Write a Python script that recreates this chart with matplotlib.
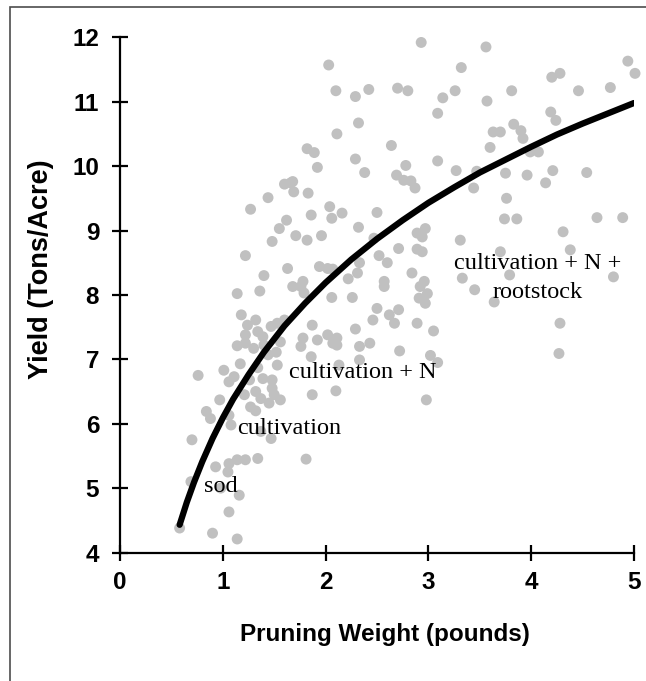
import numpy as np
import matplotlib
matplotlib.use('Agg')
from matplotlib import pyplot as plt
from matplotlib.patches import Rectangle

# pruning weight (pounds) and yield (tons/acre)
pruning = [2.93, 2.03, 3.32, 3.56, 4.94, 5.01, 2.10, 2.29, 2.42, 2.70, 2.80, 3.14, 3.26,
           4.20, 4.28, 3.81, 3.57, 4.46, 4.77, 3.09, 2.32, 2.11, 1.82, 1.89, 1.92, 2.64,
           2.29, 2.38, 2.78, 2.69, 2.76, 2.83, 2.87, 3.09, 3.27, 1.68, 1.69, 1.83, 2.04, 2.06,
           2.16, 1.86, 2.50, 2.32, 1.71, 1.82, 1.96, 2.89, 2.97, 2.94, 2.47, 3.31, 2.71, 2.89, 2.94,
           2.52, 2.60, 1.94, 2.02, 2.07, 2.33, 2.31, 2.22, 2.84, 2.96, 1.78, 2.57, 3.33,
           4.19, 4.24, 3.83, 3.90, 3.92, 3.63, 3.70, 3.60, 3.99, 4.07, 3.47, 3.44, 3.75, 3.96,
           4.14, 4.21, 4.54, 3.76, 3.74, 3.86, 4.64, 4.89, 4.31, 3.70, 4.38, 4.80, 3.79, 3.45, 3.64,
           4.28, 4.27,
           1.60, 1.66, 1.44, 1.27, 1.62, 1.55, 1.48, 1.22, 1.63, 1.40,
           1.76, 1.79, 1.68,
           2.06, 2.26, 2.57, 2.92, 2.99, 2.91, 2.97, 2.50, 2.46, 2.62, 2.71, 2.67, 2.89, 3.05,
           1.87, 2.29, 1.78, 1.76, 1.92, 2.02, 2.07, 2.11, 2.11, 2.33, 2.43, 2.72, 3.02, 3.09,
           1.86, 2.33, 2.13, 1.87, 2.10, 2.98, 1.81,
           1.14, 1.36, 1.18, 1.32, 1.24, 1.22, 1.34, 1.39, 1.47, 1.53, 1.60,
           1.14, 1.22, 1.30, 1.40, 1.44, 1.52, 1.56, 1.17, 1.34, 1.53, 0.76,
           1.01, 1.11, 1.06, 1.26, 1.39, 1.48, 1.48, 1.32, 1.21, 1.37, 1.50, 1.56, 1.45,
           0.97, 0.84, 0.88, 1.08, 1.06, 1.27, 1.32, 1.37, 1.47,
           0.70, 0.93, 1.06, 1.14, 1.22, 1.34, 1.05, 0.69, 0.98, 1.16, 1.06, 0.58, 0.90, 1.14]
yield_t = [11.92, 11.57, 11.53, 11.85, 11.63, 11.44, 11.17, 11.08, 11.19, 11.21, 11.17, 11.06, 11.17,
           11.38, 11.44, 11.17, 11.01, 11.17, 11.22, 10.82, 10.67, 10.50, 10.27, 10.21, 9.98, 10.32,
           10.11, 9.90, 10.01, 9.86, 9.78, 9.77, 9.66, 10.08, 9.93, 9.76, 9.60, 9.58, 9.37, 9.19,
           9.27, 9.24, 9.28, 9.05, 8.92, 8.85, 8.92, 8.96, 9.03, 8.90, 8.88, 8.85, 8.72, 8.71, 8.67,
           8.61, 8.50, 8.44, 8.41, 8.40, 8.50, 8.34, 8.25, 8.34, 8.21, 8.21, 8.21, 8.26,
           10.84, 10.71, 10.65, 10.55, 10.43, 10.53, 10.53, 10.29, 10.22, 10.22, 9.92, 9.66, 9.89, 9.86,
           9.74, 9.93, 9.90, 9.50, 9.18, 9.18, 9.20, 9.20, 8.98, 8.67, 8.70, 8.28, 8.31, 8.08, 7.89,
           7.56, 7.09,
           9.72, 9.74, 9.51, 9.33, 9.16, 9.03, 8.83, 8.61, 8.41, 8.30,
           8.13, 8.03, 8.13,
           7.96, 7.96, 8.13, 8.13, 8.02, 7.95, 7.87, 7.79, 7.61, 7.69, 7.77, 7.56, 7.56, 7.44,
           7.53, 7.47, 7.33, 7.20, 7.30, 7.38, 7.25, 7.33, 7.22, 7.20, 7.25, 7.13, 7.06, 6.95,
           7.04, 6.99, 6.91, 6.45, 6.51, 6.37, 5.45,
           8.02, 8.06, 7.69, 7.61, 7.53, 7.38, 7.43, 7.35, 7.51, 7.56, 7.61,
           7.21, 7.25, 7.17, 7.22, 7.07, 7.11, 7.27, 6.93, 6.87, 6.91, 6.75,
           6.83, 6.73, 6.65, 6.68, 6.70, 6.68, 6.55, 6.50, 6.45, 6.39, 6.45, 6.37, 6.32,
           6.37, 6.19, 6.08, 5.98, 6.13, 6.26, 6.20, 5.88, 5.77,
           5.75, 5.33, 5.38, 5.44, 5.44, 5.46, 5.25, 5.10, 5.00, 4.89, 4.63, 4.38, 4.30, 4.21]

# trend line, points
fit_x = [0.58, 0.65, 0.72, 0.80, 0.90, 1.00, 1.10, 1.25, 1.40, 1.60, 1.80, 2.00, 2.25, 2.50,
         2.75, 3.00, 3.25, 3.50, 3.75, 4.00, 4.25, 4.50, 4.75, 5.00]
fit_y = [4.43, 4.78, 5.09, 5.41, 5.77, 6.09, 6.38, 6.76, 7.11, 7.52, 7.87, 8.19, 8.55, 8.87,
         9.16, 9.43, 9.67, 9.90, 10.10, 10.30, 10.49, 10.66, 10.82, 10.98]

xticks = [0, 1, 2, 3, 4, 5]
yticks = [4, 5, 6, 7, 8, 9, 10, 11, 12]

labels = ['sod', 'cultivation', 'cultivation + N', 'cultivation + N +\nrootstock']
label_x = [0.82, 1.14, 1.64, 4.06]
label_y = [5.02, 5.93, 6.80, 8.27]

sans = ['Liberation Sans', 'DejaVu Sans']
serif = ['Liberation Serif', 'DejaVu Serif']

fig = plt.figure(figsize=(6.46, 6.81), dpi=100)
fig.patches.append(Rectangle((10/646, -0.1), 1.2, 1 - 7/681 + 0.1, transform=fig.transFigure,
                             fill=False, edgecolor='#4d4d4d', linewidth=1.2))
ax = fig.add_axes([120/646, 128.5/681, 514/646, 515.2/681])

ax.scatter(pruning, yield_t, s=62, color='#c0c0c0', edgecolors='none', zorder=2, clip_on=False)
ax.plot(fit_x, fit_y, color='black', linewidth=4.5, solid_capstyle='round', solid_joinstyle='round', zorder=3)

for t, lx, ly in zip(labels, label_x, label_y):
    if '\n' in t:
        ax.text(lx, ly, t, family=serif, fontsize=17.5, ha='center', va='center', linespacing=1.5, zorder=4)
    else:
        ax.text(lx, ly, t, family=serif, fontsize=17.5, ha='left', va='center', zorder=4)

ax.set_xlim(0, 5)
ax.set_ylim(4, 12)
ax.set_xticks(xticks)
ax.set_yticks(yticks)
ax.spines['top'].set_visible(False)
ax.spines['right'].set_visible(False)
for sp in ['left', 'bottom']:
    ax.spines[sp].set_linewidth(1.6)
ax.tick_params(direction='inout', length=12, width=1.6, color='black')
ax.tick_params(axis='y', pad=9)
ax.tick_params(axis='x', pad=7)
for lab in ax.get_xticklabels() + ax.get_yticklabels():
    lab.set_family(sans)
    lab.set_fontsize(17.5)
    lab.set_fontweight('bold')

ax.set_xlabel('Pruning Weight (pounds)', family=sans, fontsize=17.5, fontweight='bold')
ax.set_ylabel('Yield (Tons/Acre)', family=sans, fontsize=19.5, fontweight='bold')
ax.xaxis.set_label_coords(0.515, -0.137)
ax.yaxis.set_label_coords(-0.128, 0.55)

plt.savefig('out.png', dpi=100)
